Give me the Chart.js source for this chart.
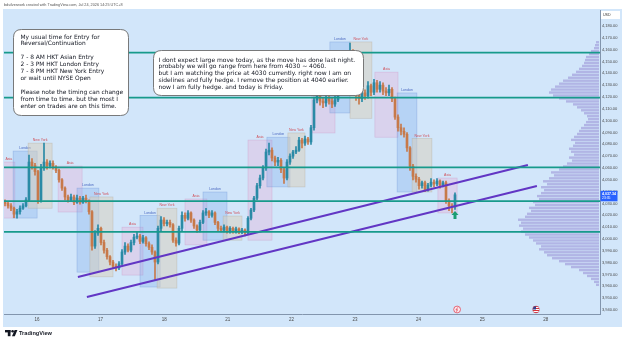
<!DOCTYPE html>
<html><head><meta charset="utf-8">
<script src="https://cdn.jsdelivr.net/npm/chart.js@4/dist/chart.umd.min.js"></script>
<style>html,body{margin:0;padding:0;background:#fff;overflow:hidden}#wrap{width:625px;height:343px;position:relative}</style>
</head><body><div id="wrap"><canvas id="c" width="625" height="343"></canvas></div>
<script>
// ---------- DATA ----------
const dayLabels = ['16','17','18','21','22','23','24','25','28'];
const yTickMin = 3940, yTickMax = 4180, yTickStep = 10;

const opens = [4031,4030,4028,4026,4021,4023,4026,4028,4033,4065,
4062,4057,4033,4060,4065,4062,4064,4061,4058,4050,
4043,4035.5,4033,4035.5,4031,4034.5,4031,4034.5,4032,4023,
3994,4005,4009,3997,3990.5,3985,3980.5,3977,3975.5,3979,
3989,3994,3990.5,3997,4001.5,4002.5,3998,4001,3996,3993,
3989,3980.5,4009,4016,4013,4014,4012,3999,3996.5,4009,
4020,4017.5,4022,4016,4011,4007.5,4014,4022,4023,4020,
4022,4014,4009,4007.5,4010,4006.5,4009,4006.5,4008.5,4006,
4007.5,4005,4017.5,4024.5,4034.5,4045,4051.5,4060,4073.5,4075,
4068.5,4065,4066.5,4058.5,4051.5,4065,4070,4073.5,4075,4083.5,
4081,4084.5,4082,4094,4117.5,4121,4116.5,4115,4119,4116.5,
4114,4117.5,4124,4130,4137.5,4143,4151,4138.5,4121.5,4118.5,
4123.5,4121,4129.5,4124,4132,4126.5,4130,4125,4123.5,4126.5,
4118.5,4103,4094,4091,4088.5,4077,4061.5,4053,4050.5,4045,
4047.5,4042,4045.5,4048,4046.5,4049,4045.5,4047.5,4032,4028,
4027];
const highs = [4033,4031.5,4030,4027,4025,4028,4030,4035,4071,4068,
4064,4058,4063,4081,4067,4066,4066,4062,4059,4051,
4044,4037,4038,4037,4037,4036,4036,4037,4033,4024,
4007,4012,4010,3999,3992,3986,3982,3979,3981,3991,
3997,3996,3999,4004,4006,4004,4003,4002,3997.5,3995,
3990,4011,4019,4018,4016,4016,4013,4001,4011,4023,
4022,4024,4023,4017,4012,4016,4024,4026,4024,4024,
4023,4015,4011,4012,4011,4010.5,4010,4010,4009.5,4009,
4008.5,4019,4026,4036,4047,4054,4062,4076,4081,4077,
4070,4069,4068,4060,4067,4072,4075,4078,4086,4085,
4087,4086,4096,4120,4125,4123,4119,4122,4121,4119,
4121,4127,4133,4141,4150,4165.5,4160,4140,4124,4127,
4126,4133,4131,4135,4134,4133,4132,4128,4130,4128,
4120,4105,4097,4094,4090,4078,4063,4055,4052,4049,
4049,4047,4051,4050,4051,4050,4049,4049,4034,4030,
4039];
const lows = [4028,4026,4024,4018,4017.5,4021,4025,4027,4032,4059,
4054,4030,4031,4058,4059,4060,4059,4056,4048,4041,
4033,4031,4031.5,4029,4030,4029.5,4030,4030.5,4021,3990.5,
3992,4003,3995,3988,3983,3978,3975,3973,3974,3978,
3987,3989,3989,3995,4000,3996,3996.5,3994,3991,3987,
3965,3979,4007,4011,4011,4010,3997,3994,3995,4007,
4015,4016,4014,4009,4005.5,4006,4013,4020,4018,4018.5,
4012,4007,4006,4006,4005,4005,4005,4005,4004.5,4004.5,
4002.5,4004,4016,4023,4033,4043,4050,4058,4071,4066,
4062,4062,4056,4047,4050,4063,4068,4072,4074,4077,
4079,4080,4080,4092,4115,4113,4111,4112,4114,4111,
4112,4116,4122,4128,4135,4140,4135,4117,4114,4116,
4118,4119,4121,4122,4124,4124,4122,4121,4121,4116,
4101,4091,4088,4086,4074,4058,4050,4048,4042,4043,
4040,4040.5,4044,4044,4045,4043,4044,4030,4024,4022,
4025];
const closes = [4030,4028,4026,4021,4023,4026,4028,4033,4065,4062,
4057,4033,4060,4065,4062,4064,4061,4058,4050,4043,
4035.5,4033,4035.5,4031,4034.5,4031,4034.5,4032,4023,3994,
4005,4009,3997,3990.5,3985,3980.5,3977,3975.5,3979,3989,
3994,3990.5,3997,4001.5,4002.5,3998,4001,3996,3993,3989,
3980.5,4009,4016,4013,4014,4012,3999,3996.5,4009,4020,
4017.5,4022,4016,4011,4007.5,4014,4022,4023,4020,4022,
4014,4009,4007.5,4010,4006.5,4009,4006.5,4008.5,4006,4007.5,
4005,4017.5,4024.5,4034.5,4045,4051.5,4060,4073.5,4075,4068.5,
4065,4066.5,4058.5,4051.5,4065,4070,4073.5,4075,4083.5,4081,
4084.5,4082,4094,4117.5,4121,4116.5,4115,4119,4116.5,4114,
4117.5,4124,4130,4137.5,4143,4151,4138.5,4121.5,4118.5,4123.5,
4121,4129.5,4124,4132,4126.5,4130,4125,4123.5,4126.5,4118.5,
4103,4094,4091,4088.5,4077,4061.5,4053,4050.5,4045,4047.5,
4042,4045.5,4048,4046.5,4049,4045.5,4047.5,4032,4028,4027,
4037.34];

// horizontal levels
const levels = [4157.5, 4119.5, 4060.5, 4032, 4006];
// trend channel (bar index, price)
const upperLineX = [24.3, 174.3], upperLineY = [3967.9, 4062.5];
const lowerLineX = [27.3, 177.3], lowerLineY = [3951, 4044.8];

// session boxes (bar index range, price range)
const sessType  = ['asia','london','ny','asia','london','ny','asia','london','ny','asia','london','ny','asia','london','ny','asia','london','ny','asia','london','ny','asia'];
const sessStart = [-0.7,2.7,7.7,17.7,24,28.3,39,45,50.7,60,66,72.7,81,87.3,94.3,102.3,108.3,115,123.3,130.7,135.7,144.3];
const sessEnd   = [3.3,10.7,15.7,25.7,31.3,36,46,51.7,57.3,67.3,74,79,89,95,100,110,115,122.3,131,137.3,142.3,150.7];
const sessHigh  = [4065,4074.3,4081,4061.6,4043,4035.5,4010,4020,4026,4033.8,4039.7,4019.4,4083.6,4086,4089.6,4144.5,4166.5,4166.5,4141,4123.4,4085,4051.5];
const sessLow   = [4017.7,4017.7,4026,4022.8,3972,3968,3969.5,3959.4,3958.5,3995,3999,3999,3999,4044,4044,4089.6,4106.5,4102,4086,4039.7,4039.7,4022];
const sessName  = {asia:'Asia', london:'London', ny:'New York'};

// volume profile: bin lows (step 2.5) and volumes
const profileStart = 3960, profileStep = 2.5;
const profileVol = [3,5,8,12,16,20,28,34,40,47,52,55,60,58,63,66,70,74,78,76,80,78,81,74,72,68,70,64,66,60,62,58,55,58,52,56,50,45,48,40,36,32,27,30,25,28,30,26,24,28,25,22,20,18,15,13,11,12,15,18,22,26,33,40,46,50,48,44,40,36,31,27,23,20,17,15,14,13,10,8,5,4,3];

const note1 = ['My usual time for Entry for','Reversal/Continuation','','7 - 8 AM HKT Asian Entry','2 - 3 PM HKT London Entry','7 - 8 PM HKT New York Entry','or wait until NYSE Open','','Please note the timing can change','from time to time. but the most I','enter on trades are on this time.'];
const note2 = ['I dont expect large move today, as the move has done last night.','probably we will go range from here from 4030 ~ 4060.','but I am watching the price at 4030 currently. right now I am on','sidelines and fully hedge. I remove the position at 4040 earlier.','now I am fully hedge. and today is Friday.'];
const headerText = 'bdsilverwork created with TradingView.com, Jul 24, 2026 14:25 UTC+8';
const countdown = '23:35';

// ---------- STYLE ----------
const UP = '#2a8aa6', DOWN = '#c7794a';
const FONT = '"Liberation Sans", Arial, sans-serif';
const NOTEFONT = '"DejaVu Sans", Verdana, sans-serif';
const firstDayX = 10.67, daySpan = 21.2;

function fmt(v){ return v.toLocaleString('en-US',{minimumFractionDigits:2,maximumFractionDigits:2}); }
function fitSize(ctx, text, target, family, weight){
  ctx.font = (weight||'') + ' 10px ' + family;
  return 10 * target / ctx.measureText(text).width;
}

const overlay = {
  id:'overlay',
  beforeDraw(chart){
    const ctx = chart.ctx;
    ctx.save();
    ctx.fillStyle = '#ffffff'; ctx.fillRect(0,0,625,343);
    ctx.fillStyle = 'rgb(210,230,250)'; ctx.fillRect(3,9,619,318);
    ctx.restore();
  },
  beforeDatasetsDraw(chart){
    const ctx = chart.ctx, xs = chart.scales.x, ys = chart.scales.y, a = chart.chartArea;
    ctx.save();
    ctx.beginPath(); ctx.rect(a.left, a.top - 6, a.right - a.left, a.bottom - a.top + 6); ctx.clip();
    const fills = {asia:'rgba(235,165,210,0.30)', london:'rgba(110,160,235,0.28)', ny:'rgba(215,205,185,0.50)'};
    const strokes = {asia:'rgba(200,140,190,0.45)', london:'rgba(100,140,210,0.45)', ny:'rgba(180,170,150,0.5)'};
    const lab = {asia:'#d0505a', london:'#4a68c0', ny:'#d0505a'};
    for (let i=0;i<sessType.length;i++){
      const x0 = xs.getPixelForValue(sessStart[i]), x1 = xs.getPixelForValue(sessEnd[i]);
      const y0 = ys.getPixelForValue(sessHigh[i]), y1 = ys.getPixelForValue(sessLow[i]);
      ctx.fillStyle = fills[sessType[i]]; ctx.fillRect(x0,y0,x1-x0,y1-y0);
      ctx.strokeStyle = strokes[sessType[i]]; ctx.lineWidth = 0.6; ctx.strokeRect(x0,y0,x1-x0,y1-y0);
      ctx.fillStyle = lab[sessType[i]]; ctx.font = '3.5px ' + FONT; ctx.textAlign='center'; ctx.textBaseline='bottom';
      ctx.fillText(sessName[sessType[i]], (x0+x1)/2, y0-1);
    }
    // volume profile
    const right = a.right - 1;
    ctx.fillStyle = 'rgba(150,140,212,0.55)';
    for (let i=0;i<profileVol.length;i++){
      const lo = profileStart + i*profileStep;
      const yt = ys.getPixelForValue(lo+profileStep), yb = ys.getPixelForValue(lo);
      ctx.fillRect(right - profileVol[i], yt + 0.3, profileVol[i], yb - yt - 0.6);
    }
    ctx.restore();
  },
  afterDatasetsDraw(chart){
    const ctx = chart.ctx, ys = chart.scales.y, a = chart.chartArea;
    ctx.save();
    ctx.strokeStyle = '#179a8b'; ctx.lineWidth = 1.8;
    levels.forEach(l=>{ const y = ys.getPixelForValue(l); ctx.beginPath(); ctx.moveTo(a.left,y); ctx.lineTo(a.right,y); ctx.stroke(); });
    ctx.restore();
  },
  afterDraw(chart){
    const ctx = chart.ctx, xs = chart.scales.x, ys = chart.scales.y, a = chart.chartArea;
    ctx.save();
    // arrow under last candle
    const li = closes.length-1;
    const ax = xs.getPixelForValue(li), ay = ys.getPixelForValue(lows[li]) + 1.5;
    ctx.fillStyle = '#1a9e72';
    ctx.beginPath(); ctx.moveTo(ax, ay); ctx.lineTo(ax+3.5, ay+4); ctx.lineTo(ax+1.5, ay+4); ctx.lineTo(ax+1.5, ay+8);
    ctx.lineTo(ax-1.5, ay+8); ctx.lineTo(ax-1.5, ay+4); ctx.lineTo(ax-3.5, ay+4); ctx.closePath(); ctx.fill();

    // note bubbles
    function bubble(x,y,w,h,lines,tx,ty,lh,target,refLine){
      const r = 8;
      ctx.beginPath();
      ctx.moveTo(x+r,y); ctx.lineTo(x+w-r,y); ctx.quadraticCurveTo(x+w,y,x+w,y+r);
      ctx.lineTo(x+w,y+h-r); ctx.quadraticCurveTo(x+w,y+h,x+w-r,y+h);
      ctx.lineTo(x+r,y+h); ctx.quadraticCurveTo(x,y+h,x,y+h-r);
      ctx.lineTo(x,y+r); ctx.quadraticCurveTo(x,y,x+r,y); ctx.closePath();
      ctx.fillStyle = '#ffffff'; ctx.fill();
      ctx.strokeStyle = '#6b6b6b'; ctx.lineWidth = 0.9; ctx.stroke();
      const fs = fitSize(ctx, lines[refLine], target, NOTEFONT);
      ctx.font = fs.toFixed(2) + 'px ' + NOTEFONT;
      ctx.fillStyle = '#131722'; ctx.textAlign = 'left'; ctx.textBaseline = 'middle';
      lines.forEach((l,i)=>{ if(l) ctx.fillText(l, tx, ty + i*lh); });
    }
    bubble(13.5,29.5,115,86, note1, 20.5, 37, 6.9, 103, 8);
    bubble(153.5,50.5,210,45, note2, 158.5, 60, 6.8, 197, 0);

    // USD box
    ctx.fillStyle = '#ffffff'; ctx.fillRect(601,11,19,8);
    ctx.fillStyle = '#333'; ctx.font = '3.6px ' + FONT; ctx.textAlign='left'; ctx.textBaseline='middle';
    ctx.fillText('USD', 603, 15);

    // last price label
    const py = ys.getPixelForValue(closes[li]);
    ctx.fillStyle = '#2962ff'; ctx.fillRect(600.5, py-4, 17, 10.5);
    ctx.fillStyle = '#ffffff'; ctx.font = 'bold 3.6px ' + FONT;
    ctx.fillText(fmt(closes[li]), 602, py-1);
    ctx.font = '3.4px ' + FONT; ctx.fillText(countdown, 602, py+3.5);

    // header
    const hs = fitSize(ctx, headerText, 119, FONT);
    ctx.font = hs.toFixed(2)+'px '+FONT; ctx.fillStyle = '#555'; ctx.fillText(headerText, 4, 4.5);

    // event icons on time axis
    const e1x = xs.getPixelForValue(150.7), e2x = xs.getPixelForValue(177), ey = a.bottom - 4.5;
    ctx.beginPath(); ctx.arc(e1x, ey, 3.4, 0, Math.PI*2); ctx.fillStyle='#fbe9ee'; ctx.fill();
    ctx.strokeStyle = '#e0485a'; ctx.lineWidth = 0.8; ctx.stroke();
    ctx.beginPath(); ctx.moveTo(e1x+0.8, ey-2.2); ctx.lineTo(e1x-1.2, ey+0.4); ctx.lineTo(e1x+0.4, ey+0.2); ctx.lineTo(e1x-0.6, ey+2.2);
    ctx.stroke();
    ctx.save(); ctx.beginPath(); ctx.arc(e2x, ey, 3.4, 0, Math.PI*2); ctx.clip();
    for (let s=0;s<7;s++){ ctx.fillStyle = s%2? '#ffffff':'#d8343c'; ctx.fillRect(e2x-3.5, ey-3.5+s, 7, 1); }
    ctx.fillStyle = '#2c3f8f'; ctx.fillRect(e2x-3.5, ey-3.5, 3.5, 3.5);
    ctx.restore();
    ctx.beginPath(); ctx.arc(e2x, ey, 3.4, 0, Math.PI*2); ctx.strokeStyle='#c04050'; ctx.lineWidth=0.5; ctx.stroke();

    // TradingView footer logo
    ctx.fillStyle = '#131722';
    ctx.fillRect(5,330,5.5,2.4); ctx.fillRect(7.8,330,2.7,6.2);
    ctx.beginPath(); ctx.arc(12.6,331.3,1.3,0,Math.PI*2); ctx.fill();
    ctx.beginPath(); ctx.moveTo(14.6,330); ctx.lineTo(17.4,330); ctx.lineTo(14.8,336.2); ctx.lineTo(12,336.2); ctx.closePath(); ctx.fill();
    const ts = fitSize(ctx, 'TradingView', 33, FONT, 'bold');
    ctx.font = 'bold ' + ts.toFixed(2) + 'px ' + FONT; ctx.textBaseline='middle'; ctx.textAlign='left';
    ctx.fillText('TradingView', 19, 333.3);
    ctx.restore();
  }
};

const wickData = closes.map((c,i)=>({x:i, y:[lows[i], highs[i]]}));
const bodyData = closes.map((c,i)=>({x:i, y:[opens[i], c]}));
const colors = closes.map((c,i)=> c >= opens[i] ? UP : DOWN);

new Chart(document.getElementById('c'), {
  type:'bar',
  data:{ datasets:[
    {type:'line', data:upperLineX.map((x,i)=>({x, y:upperLineY[i]})), borderColor:'#6236c4', borderWidth:2, pointRadius:0, order:0},
    {type:'line', data:lowerLineX.map((x,i)=>({x, y:lowerLineY[i]})), borderColor:'#6236c4', borderWidth:2, pointRadius:0, order:0},
    {data:bodyData, backgroundColor:colors, barThickness:2, grouped:false, borderWidth:0, borderSkipped:false, order:1},
    {data:wickData, backgroundColor:colors, barThickness:1, grouped:false, borderWidth:0, borderSkipped:false, order:2}
  ]},
  options:{
    responsive:false, animation:false, devicePixelRatio:1,
    layout:{padding:{left:4,right:3,top:10,bottom:18}},
    plugins:{legend:{display:false}, tooltip:{enabled:false}},
    scales:{
      x:{ type:'linear', offset:false, min:-0.333, max:198.333,
        grid:{display:false, drawTicks:false},
        border:{display:true, color:'#8295ad', width:1},
        afterBuildTicks(s){ s.ticks = dayLabels.map((d,i)=>({value:firstDayX + i*daySpan})); },
        afterFit(s){ s.height = 11; },
        ticks:{ autoSkip:false, maxRotation:0, padding:3, color:'#4a4a4a', font:{size:4.5, family:FONT},
          callback(v, i){ return dayLabels[i]; } }
      },
      y:{ type:'linear', position:'right', min:3936.6, max:4193.5,
        grid:{display:false, drawTicks:false},
        border:{display:true, color:'#8295ad', width:1},
        afterBuildTicks(s){ const t=[]; for(let v=yTickMin; v<=yTickMax; v+=yTickStep) t.push({value:v}); s.ticks=t; },
        afterFit(s){ s.width = 22; },
        ticks:{ padding:2, color:'#4a4a4a', font:{size:4, family:FONT}, callback(v){ return fmt(v); } }
      }
    }
  },
  plugins:[overlay]
});
</script></body></html>
